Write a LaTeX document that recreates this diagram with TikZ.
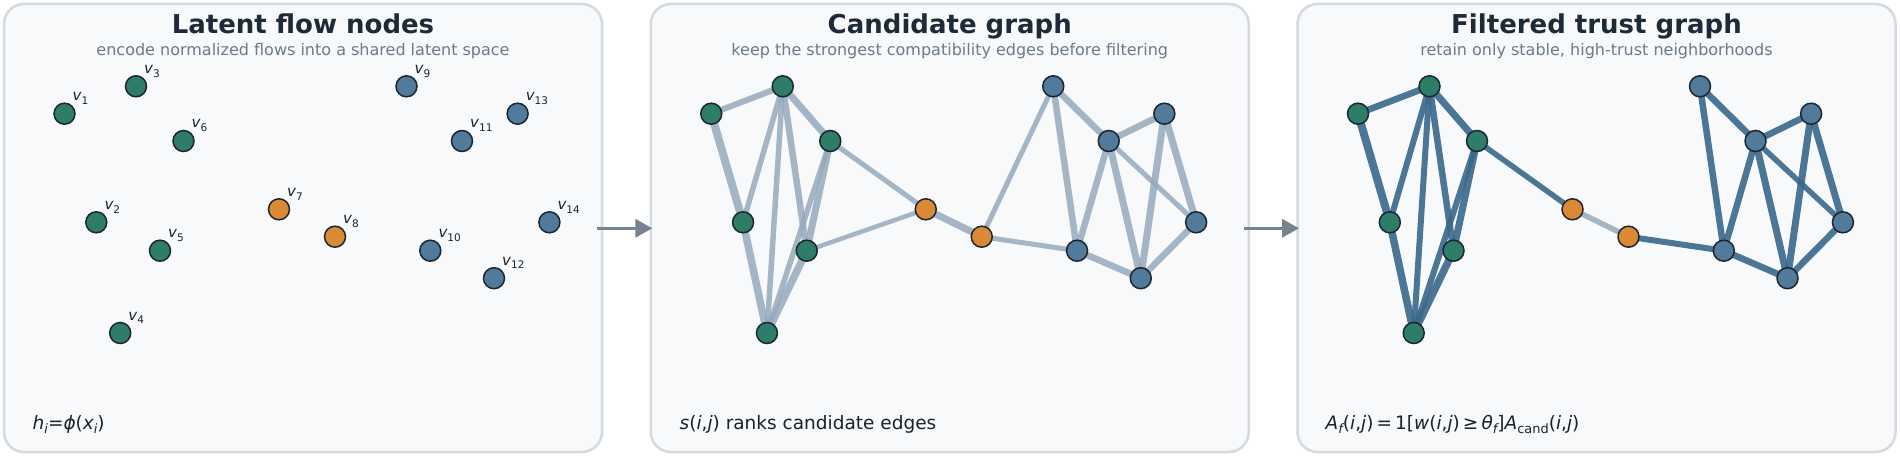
\documentclass[tikz,border=0pt]{standalone}
\usepackage{fontspec}
\setmainfont{DejaVu Sans}[ItalicFont={DejaVu Sans Oblique},BoldFont={DejaVu Sans Bold},BoldItalicFont={DejaVu Sans Bold Oblique}]
\usepackage{graphicx}
\usetikzlibrary{arrows.meta}
\pgfdeclarelayer{panel}
\pgfdeclarelayer{edges}
\pgfsetlayers{panel,edges,main}
\definecolor{grn}{RGB}{46,125,104}
\definecolor{org}{RGB}{218,137,52}
\definecolor{blu}{RGB}{82,122,155}
\definecolor{nodeline}{RGB}{27,38,50}
\definecolor{candc}{RGB}{150,170,188}
\definecolor{trustc}{RGB}{58,104,138}
\definecolor{panelfill}{RGB}{247,249,251}
\definecolor{panelline}{RGB}{211,218,225}
\definecolor{titlec}{RGB}{30,42,56}
\definecolor{subc}{RGB}{108,122,137}
\definecolor{textc}{RGB}{25,35,45}
\definecolor{arrowc}{RGB}{118,131,143}
\newcommand\sbs[1]{\raisebox{-0.25em}{\scalebox{0.7}{#1}}}
\tikzset{
  panelbox/.style={draw=panelline, fill=panelfill, line width=2.5pt, rounded corners=20pt},
  vnode/.style={circle, draw=nodeline, line width=1.5pt, minimum size=21pt, inner sep=0pt},
  vlabel/.style={anchor=base west, inner sep=0pt, text=textc, font=\fontsize{15}{17}\selectfont\itshape},
  titletext/.style={anchor=base, inner sep=0pt, text=titlec, font=\fontsize{26}{30}\selectfont\bfseries},
  subtext/.style={anchor=base, inner sep=0pt, text=subc, font=\fontsize{16}{19}\selectfont},
  foottext/.style={anchor=base west, inner sep=0pt, text=textc, font=\fontsize{18.5}{22}\selectfont},
  candedge/.style={draw=candc, opacity=0.85, line cap=round},
  trustedge/.style={draw=trustc, opacity=0.9, line cap=round},
  flowarrow/.style={draw=arrowc, line width=3.5pt, -{Triangle[length=17pt,width=18pt]}}
}
\begin{document}
\begin{tikzpicture}[x=1pt,y=-1pt]
\useasboundingbox (0,0) rectangle (1900,457);
\begin{pgfonlayer}{panel}
\fill[white] (0,0) rectangle (1900,457);
\end{pgfonlayer}
\foreach \p/\xo/\tt/\st in {1/4/{Latent flow nodes}/{encode normalized flows into a shared latent space},
                         2/650.75/{Candidate graph}/{keep the strongest compatibility edges before filtering},
                         3/1297.5/{Filtered trust graph}/{retain only stable, high-trust neighborhoods}} {
  \begin{pgfonlayer}{panel}
  \path[panelbox] (\xo,4) rectangle (\xo+598,452);
  \end{pgfonlayer}
  \node[titletext] (title\p) at (\xo+299,34) {\tt};
  \node[subtext] (sub\p) at (\xo+299,56) {\st};
  \foreach \n/\x/\y/\c in {1/60.5/113.7/grn, 2/92.3/222.3/grn, 3/132/86.3/grn, 4/116.2/333/grn,
                           5/156/250.7/grn, 6/179.5/141/grn, 7/275/209.3/org, 8/331/236.7/org,
                           9/402.5/86.3/blu, 10/426.3/250.7/blu, 11/458/141/blu, 12/490/278.2/blu,
                           13/513.6/113.7/blu, 14/545.4/222.3/blu} {
    \node[vnode, fill=\c] (p\p-v\n) at (\xo+\x,\y) {};
  }
}
% labels in first panel
\foreach \n in {1,...,14} {
  \node[vlabel] (lab\n) at ([shift={(8,-13)}]p1-v\n.center) {v\sbs{\upshape\n}};
}
% footers
\node[foottext] (foot1) at (32.5,429) {\itshape h\sbs{i}\upshape=\itshape ϕ\upshape(\itshape x\sbs{i}\upshape)};
\node[foottext] (foot2) at (679.5,429) {{\itshape s}(\itshape i\upshape,\itshape j\upshape) ranks candidate edges};
\node[foottext] (foot3) at (1325.5,429) {\itshape A\sbs{f}\upshape(\itshape i\upshape,\itshape j\upshape)\,=\,1[\itshape w\upshape(\itshape i\upshape,\itshape j\upshape)\,≥\,\itshape θ\sbs{f}\upshape]\itshape A\sbs{\upshape cand}\upshape(\itshape i\upshape,\itshape j\upshape)};
% edges
\begin{pgfonlayer}{edges}
\foreach \a/\b/\w in {1/3/6, 1/2/8, 3/2/5.5, 3/4/5.5, 3/5/6.5, 3/6/7, 6/5/7, 6/4/5.5, 2/4/7.5, 5/4/7.5,
                      6/7/5, 5/7/4.5, 7/8/7, 8/9/5, 8/10/5, 9/11/6.5, 9/10/6.5, 11/13/6.5,
                      11/10/6.5, 11/12/7, 11/14/5, 13/12/7, 13/14/7, 10/12/6.5, 12/14/6.5} {
  \draw[candedge, line width=\w pt] (p2-v\a.center) -- (p2-v\b.center);
}
\foreach \a/\b/\w in {1/3/6.5, 1/2/8, 3/2/6, 3/4/6, 3/5/6.5, 3/6/7, 6/5/7, 6/4/6, 2/4/7.5, 5/4/7.5,
                      6/7/5.5, 8/10/6, 9/11/6.5, 9/10/6.5, 11/13/6.5,
                      11/10/6.5, 11/12/7, 11/14/5.5, 13/12/7, 13/14/7, 10/12/6.5, 12/14/6.5} {
  \draw[trustedge, line width=\w pt] (p3-v\a.center) -- (p3-v\b.center);
}
\draw[candedge, line width=5.5pt] (p3-v7.center) -- (p3-v8.center);
\end{pgfonlayer}
% arrows
\coordinate (a1s) at (596.7,228.3);
\coordinate (a1e) at (652.3,228.3);
\coordinate (a2s) at (1243.5,228.3);
\coordinate (a2e) at (1299,228.3);
\draw[flowarrow] (a1s) -- (a1e);
\draw[flowarrow] (a2s) -- (a2e);
\end{tikzpicture}
\end{document}
